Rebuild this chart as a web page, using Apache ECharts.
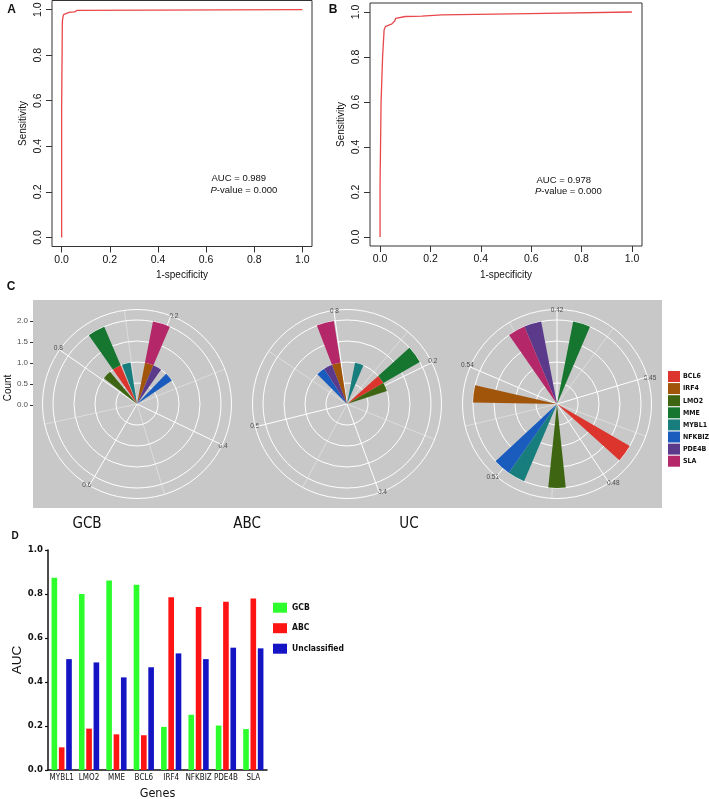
<!DOCTYPE html>
<html><head><meta charset="utf-8">
<script src="https://cdn.jsdelivr.net/npm/echarts@6/dist/echarts.min.js"></script>
<style>html,body{margin:0;padding:0;background:#fff}#c{width:709px;height:799px}</style>
</head><body><div id="c"></div>
<script>
// ---------- Panel A / B : ROC curves ----------
const rocTicks = [0, 0.2, 0.4, 0.6, 0.8, 1.0];
const rocA_fpr = [0, 0, 0.003, 0.003, 0.005, 0.008, 0.013, 0.03, 0.054, 0.056, 0.065, 0.066, 1];
const rocA_tpr = [0, 0.557, 0.557, 0.947, 0.965, 0.978, 0.985, 0.988, 0.99, 0.995, 0.997, 1, 1];
const rocB_fpr = [0, 0, 0.004, 0.004, 0.01, 0.01, 0.016, 0.016, 0.021, 0.021, 0.028, 0.047, 0.05, 0.058, 0.062, 0.067, 0.1, 0.165, 0.17, 0.245, 0.25, 0.59, 0.59, 1];
const rocB_tpr = [0, 0.24, 0.24, 0.6, 0.6, 0.8, 0.8, 0.92, 0.92, 0.935, 0.942, 0.947, 0.955, 0.96, 0.972, 0.977, 0.98, 0.982, 0.987, 0.987, 0.993, 0.993, 1, 1];

// ---------- Panel C : polar histograms ----------
const genes = ['BCL6', 'IRF4', 'LMO2', 'MME', 'MYBL1', 'NFKBIZ', 'PDE4B', 'SLA'];
const geneColors = ['#DC352D', '#A0550A', '#3E6612', '#16752E', '#187D7D', '#1A5CBE', '#5B3A8C', '#B4286A'];
const gcbTheta = [0.855, 0.1915, 0.819, 0.855, 0.8846, 0.2613, 0.2169, 0.1915];
const gcbBase  = [0, 0, 0, 1, 0, 0, 0, 1];
const gcbTop   = [1, 1, 1, 2, 1, 1, 1, 2];
const abcTheta = [0.1792, 0.7854, 0.2042, 0.1792, 0.1021, 0.7354, 0.7604, 0.7854];
const abcBase  = [0, 0, 0, 1, 0, 0, 0, 1];
const abcTop   = [1, 1, 1, 2, 1, 1, 1, 2];
const ucTheta  = [0.4716, 0.5334, 0.4937, 0.427, 0.5056, 0.5105, 0.5605, 0.5556];
const ucBase   = [0, 0, 0, 0, 0, 0, 0, 0];
const ucTop    = [1, 1, 1, 1, 1, 1, 1, 1];
const countTicks = [0, 0.5, 1.0, 1.5, 2.0];
const facetLabels = ['GCB', 'ABC', 'UC'];

// ---------- Panel D : AUC bars ----------
const genesD = ['MYBL1', 'LMO2', 'MME', 'BCL6', 'IRF4', 'NFKBIZ', 'PDE4B', 'SLA'];
const aucGCB = [0.874, 0.800, 0.861, 0.842, 0.196, 0.251, 0.202, 0.186];
const aucABC = [0.103, 0.188, 0.162, 0.158, 0.785, 0.741, 0.765, 0.780];
const aucUC  = [0.504, 0.489, 0.421, 0.467, 0.530, 0.504, 0.556, 0.553];

// ---------- config (layout / styles) ----------
const FONT = '"Liberation Sans", Arial, sans-serif';
const NARROW = '"Liberation Sans Narrow", "DejaVu Sans Condensed", "Liberation Sans", sans-serif';
const polarCfg = [
  {center: [137, 404], thMin: 0.2, thMax: 0.9606, step: 0.2, start: 69, rMax: 2.25, rStep: 0.5, binW: 0.0254, dec: 1},
  {center: [347, 404], thMin: 0.2, thMax: 0.95, step: 0.2, start: 26, rMax: 2.25, rStep: 0.5, binW: 0.025, dec: 1},
  {center: [557, 404], thMin: 0.42, thMax: 0.5674, step: 0.03, start: 90, rMax: 1.125, rStep: 0.25, binW: 0.0049, dec: 2}
];
const polarData = [[gcbTheta, gcbBase, gcbTop], [abcTheta, abcBase, abcTop], [ucTheta, ucBase, ucTop]];

function zip(a, b) { return a.map((v, i) => [v, b[i]]); }

function rocX(i) {
  return {gridIndex: i, type: 'value', min: -0.04, max: 1.04,
    name: '1-specificity', nameLocation: 'middle', nameGap: 24,
    nameTextStyle: {fontSize: 10, color: '#111', fontFamily: FONT},
    axisLine: {show: false, onZero: false}, splitLine: {show: false},
    axisTick: {show: true, length: 6, customValues: rocTicks, lineStyle: {color: '#333'}},
    axisLabel: {customValues: rocTicks, margin: 8, fontSize: 10.5, color: '#111', fontFamily: FONT,
      formatter: v => v.toFixed(1)}};
}
function rocY(i) {
  return {gridIndex: i, type: 'value', min: -0.04, max: 1.04,
    name: 'Sensitivity', nameLocation: 'middle', nameGap: 24, nameRotate: 90,
    nameTextStyle: {fontSize: 10, color: '#111', fontFamily: FONT},
    axisLine: {show: false, onZero: false}, splitLine: {show: false},
    axisTick: {show: true, length: 6, customValues: rocTicks, lineStyle: {color: '#333'}},
    axisLabel: {customValues: rocTicks, rotate: 90, margin: 8, fontSize: 10.5, color: '#111', fontFamily: FONT,
      formatter: v => v.toFixed(1)}};
}

function polarRender(binW) {
  return function (params, api) {
    const cs = params.coordSys;
    const th = api.value(0), b = api.value(1), t = api.value(2);
    const p1 = api.coord([t, th - binW / 2]);
    const p2 = api.coord([t, th + binW / 2]);
    const pb = api.coord([b, th]);
    const rOut = Math.hypot(p1[0] - cs.cx, p1[1] - cs.cy);
    const rIn = Math.hypot(pb[0] - cs.cx, pb[1] - cs.cy);
    let a1 = Math.atan2(p1[1] - cs.cy, p1[0] - cs.cx);
    let a2 = Math.atan2(p2[1] - cs.cy, p2[0] - cs.cx);
    if (a2 < a1) a2 += 2 * Math.PI;
    return {type: 'sector', shape: {cx: cs.cx, cy: cs.cy, r0: rIn, r: rOut, startAngle: a1, endAngle: a2, clockwise: true},
      style: {fill: api.visual('color')}};
  };
}

const series = [
  {type: 'line', xAxisIndex: 0, yAxisIndex: 0, data: zip(rocA_fpr, rocA_tpr), symbol: 'none', silent: true,
    lineStyle: {color: '#E8474B', width: 1.3}, itemStyle: {color: '#E8474B'}},
  {type: 'line', xAxisIndex: 1, yAxisIndex: 1, data: zip(rocB_fpr, rocB_tpr), symbol: 'none', silent: true,
    lineStyle: {color: '#E8474B', width: 1.3}, itemStyle: {color: '#E8474B'}}
];
polarCfg.forEach((cfg, pi) => {
  const [th, base, top] = polarData[pi];
  genes.forEach((g, gi) => {
    series.push({type: 'custom', name: g, coordinateSystem: 'polar', polarIndex: pi, silent: true,
      itemStyle: {color: geneColors[gi]},
      data: [[th[gi], base[gi], top[gi]]],
      renderItem: polarRender(cfg.binW)});
  });
});
const barColors = {GCB: '#2CFF2C', ABC: '#FF1414', Unclassified: '#1414C4'};
[['GCB', aucGCB], ['ABC', aucABC], ['Unclassified', aucUC]].forEach(([n, d]) => {
  series.push({type: 'bar', name: n, xAxisIndex: 3, yAxisIndex: 3, data: d, silent: true,
    barCategoryGap: '26%', barGap: '30%', itemStyle: {color: barColors[n]}});
});

function txt(text, x, y, font, extra) {
  return Object.assign({type: 'text', x: x, y: y, silent: true,
    style: {text: text, font: font, fill: '#111', align: 'center', verticalAlign: 'middle'}}, extra || {});
}
const pFont = '9.5px "Liberation Sans", Arial, sans-serif';
const pFontI = 'italic 9.5px "Liberation Sans", Arial, sans-serif';

const option = {
  animation: false,
  backgroundColor: '#ffffff',
  textStyle: {fontFamily: FONT},
  grid: [
    {left: 52, top: 0.5, width: 260, height: 246, show: true, borderColor: '#333', borderWidth: 1, backgroundColor: 'transparent', outerBoundsMode: 'none'},
    {left: 370, top: 3, width: 272, height: 243, show: true, borderColor: '#333', borderWidth: 1, backgroundColor: 'transparent', outerBoundsMode: 'none'},
    {left: 33, top: 300, width: 629, height: 208, show: true, borderWidth: 0, borderColor: 'transparent', backgroundColor: '#C8C8C8', z: -5, outerBoundsMode: 'none'},
    {left: 48, top: 550, width: 219, height: 220, show: false, outerBoundsMode: 'none'}
  ],
  xAxis: [
    rocX(0), rocX(1),
    {gridIndex: 2, type: 'value', show: false, min: 0, max: 1},
    {gridIndex: 3, type: 'category', data: genesD,
      name: 'Genes', nameLocation: 'middle', nameGap: 17,
      nameTextStyle: {fontSize: 12.5, color: '#111', fontFamily: NARROW},
      axisLine: {show: true, onZero: false, lineStyle: {color: '#111', width: 1.5}},
      axisTick: {show: false},
      axisLabel: {interval: 0, margin: 4, fontSize: 8, color: '#111', fontFamily: NARROW}}
  ],
  yAxis: [
    rocY(0), rocY(1),
    {gridIndex: 2, type: 'value', min: -2.452, max: 2.5,
      axisLine: {show: false, onZero: false}, splitLine: {show: false},
      axisTick: {show: true, length: 3, customValues: countTicks, lineStyle: {color: '#333'}},
      axisLabel: {customValues: countTicks, margin: 5, fontSize: 8, color: '#4d4d4d', fontFamily: FONT,
        formatter: v => v.toFixed(1)}},
    {gridIndex: 3, type: 'value', min: 0, max: 1, interval: 0.2,
      name: 'AUC', nameLocation: 'middle', nameGap: 21, nameRotate: 90,
      nameTextStyle: {fontSize: 13.5, color: '#111', fontFamily: FONT},
      axisLine: {show: true, onZero: false, lineStyle: {color: '#111', width: 1.5}},
      axisTick: {show: true, length: 3, lineStyle: {color: '#111', width: 1.2}},
      splitLine: {show: false},
      axisLabel: {margin: 5, fontSize: 9.5, fontWeight: 'bold', color: '#111', fontFamily: NARROW,
        formatter: v => v.toFixed(1)}}
  ],
  polar: polarCfg.map(c => ({center: c.center, radius: [0, 94.5]})),
  angleAxis: polarCfg.map((c, i) => ({polarIndex: i, type: 'value', min: c.thMin, max: c.thMax, interval: c.step,
    startAngle: c.start, clockwise: true,
    axisLine: {show: false}, axisTick: {show: false},
    axisLabel: {show: true, margin: -4, fontSize: 6.5, color: '#4d4d4d', fontFamily: FONT,
      formatter: v => (Math.abs(v - c.thMax) < 1e-9 ? '' : v.toFixed(c.dec))},
    splitLine: {show: true, lineStyle: {color: '#ffffff', width: 1}},
    minorTick: {show: false, splitNumber: 2},
    minorSplitLine: {show: true, lineStyle: {color: '#ffffff', width: 0.5, opacity: 0.75}}})),
  radiusAxis: polarCfg.map((c, i) => ({polarIndex: i, type: 'value', min: 0, max: c.rMax, interval: c.rStep,
    axisLine: {show: false}, axisTick: {show: false}, axisLabel: {show: false},
    splitLine: {show: true, lineStyle: {color: '#ffffff', width: 1}}})),
  legend: [
    {data: genes, orient: 'vertical', left: 668, top: 371, icon: 'rect', itemWidth: 12, itemHeight: 11, itemGap: 1.1,
      padding: 0, selectedMode: false, itemStyle: {borderWidth: 0},
      textStyle: {fontSize: 7, fontWeight: 'bold', color: '#111', fontFamily: NARROW, overflow: 'none', width: 60, padding: [0, 0, 0, -2]}},
    {data: ['GCB', 'ABC', 'Unclassified'], orient: 'vertical', left: 273, top: 602.7, icon: 'rect',
      itemWidth: 14, itemHeight: 10, itemGap: 10.5, padding: 0, selectedMode: false, itemStyle: {borderWidth: 0},
      textStyle: {fontSize: 8.5, fontWeight: 'bold', color: '#111', fontFamily: NARROW, overflow: 'none'}}
  ],
  graphic: [
    txt('A', 11.5, 10, 'bold 12px "Liberation Sans", Arial, sans-serif'),
    txt('B', 333, 10, 'bold 12px "Liberation Sans", Arial, sans-serif'),
    txt('C', 11, 287, 'bold 12px "Liberation Sans", Arial, sans-serif'),
    txt('D', 15, 536, 'bold 10px "Liberation Sans", Arial, sans-serif'),
    {type: 'text', x: 211.5, y: 178, silent: true, style: {text: 'AUC = 0.989', font: pFont, fill: '#111', align: 'left', verticalAlign: 'middle'}},
    {type: 'text', x: 210.5, y: 190, silent: true, style: {text: '{i|P}-value = 0.000', font: pFont, fill: '#111', align: 'left', verticalAlign: 'middle',
      rich: {i: {font: pFontI, fill: '#111'}}}},
    {type: 'text', x: 536.5, y: 180, silent: true, style: {text: 'AUC = 0.978', font: pFont, fill: '#111', align: 'left', verticalAlign: 'middle'}},
    {type: 'text', x: 535, y: 191.5, silent: true, style: {text: '{i|P}-value = 0.000', font: pFont, fill: '#111', align: 'left', verticalAlign: 'middle',
      rich: {i: {font: pFontI, fill: '#111'}}}},
    txt('Count', 8, 388, '10px "Liberation Sans", Arial, sans-serif', {rotation: Math.PI / 2}),
    txt(facetLabels[0], 87, 524, '15px ' + NARROW),
    txt(facetLabels[1], 247, 524, '15px ' + NARROW),
    txt(facetLabels[2], 409, 524, '15px ' + NARROW)
  ],
  series: series
};
const chart = echarts.init(document.getElementById('c'), null, {renderer: 'canvas'});
chart.setOption(option);
</script>
</body></html>
